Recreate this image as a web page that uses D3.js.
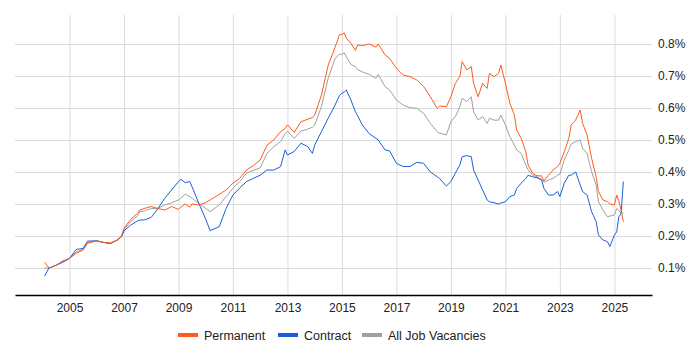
<!DOCTYPE html>
<html>
<head>
<meta charset="utf-8">
<script src="https://cdn.jsdelivr.net/npm/d3@7"></script>
<style>
	body { margin: 0; background: #fff; }
	svg { font-family: "Liberation Sans", Arial, sans-serif; }
	.grid line { stroke: #dcdcdc; stroke-width: 1; }
	.grid path { display: none; }
	.tick text { fill: #222; }
</style>
</head>
<body>
<svg id="chart" width="700" height="350"></svg>
<script>
'use strict';

// months of each reading (YYYY-MM)
const months = [
	"2004-02","2004-04","2004-07","2004-10","2005-01","2005-04","2005-07","2005-09",
	"2006-01","2006-04","2006-07","2006-10","2006-12","2007-01","2007-04","2007-07",
	"2007-08","2007-10","2008-01","2008-04","2008-07","2008-10","2009-01","2009-02",
	"2009-04","2009-06","2009-07","2009-10","2010-01","2010-03","2010-07","2010-10",
	"2011-01","2011-04","2011-07","2011-10","2012-01","2012-04","2012-07","2012-10",
	"2012-12","2013-01","2013-04","2013-07","2013-10","2013-12","2014-01","2014-04",
	"2014-07","2014-10","2014-12","2015-01","2015-02","2015-03","2015-05","2015-07",
	"2015-08","2015-10","2016-01","2016-04","2016-05","2016-08","2016-10","2017-01",
	"2017-04","2017-07","2017-10","2018-01","2018-04","2018-07","2018-08","2018-11",
	"2019-01","2019-03","2019-05","2019-06","2019-08","2019-10","2019-11","2020-01",
	"2020-03","2020-05","2020-06","2020-08","2020-10","2020-11","2021-01","2021-03",
	"2021-05","2021-06","2021-08","2021-10","2021-11","2022-01","2022-03","2022-05",
	"2022-06","2022-08","2022-10","2022-12","2023-01","2023-03","2023-05","2023-06",
	"2023-08","2023-10","2023-11","2024-01","2024-03","2024-05","2024-06","2024-08",
	"2024-10","2024-11","2025-01","2025-02","2025-03","2025-04","2025-05"
];

// share of vacancies, in percent
const permanent = [
	.118,.100,.108,.122,.130,.146,.156,.177,
	.185,.180,.178,.187,.200,.224,.252,.271,
	.281,.286,.292,.286,.281,.292,.283,.290,
	.300,.290,.300,.297,.304,.3125,.330,.344,
	.365,.380,.406,.420,.4375,.484,.500,.526,
	.536,.547,.524,.557,.565,.570,.578,.640,
	.734,.790,.830,.830,.835,.818,.802,.780,
	.797,.795,.800,.790,.800,.766,.755,.724,
	.703,.698,.6875,.667,.635,.599,.606,.604,
	.635,.677,.698,.745,.719,.729,.677,.635,
	.677,.661,.708,.698,.708,.734,.677,.615,
	.578,.531,.505,.464,.422,.396,.388,.388,
	.372,.390,.406,.417,.427,.464,.505,.547,
	.5625,.594,.552,.516,.443,.385,.339,.3125,
	.307,.300,.297,.328,.310,.280,.245
];

const contract = [
	.075,.100,.108,.118,.130,.158,.161,.184,
	.185,.180,.176,.187,.198,.216,.234,.247,
	.250,.250,.258,.286,.318,.344,.370,.377,
	.367,.370,.354,.302,.252,.217,.229,.286,
	.328,.350,.370,.380,.390,.406,.406,.417,
	.469,.453,.464,.490,.479,.458,.484,.526,
	.568,.609,.640,.646,.650,.656,.625,.588,
	.575,.547,.520,.505,.500,.469,.466,.427,
	.417,.417,.430,.427,.400,.385,.380,.356,
	.370,.396,.422,.448,.451,.448,.406,.375,
	.344,.3125,.307,.304,.300,.303,.307,.323,
	.328,.349,.365,.380,.390,.385,.382,.375,
	.349,.328,.328,.339,.323,.365,.390,.390,
	.400,.359,.339,.328,.276,.245,.203,.1875,
	.182,.167,.203,.213,.260,.270,.370
];

const allJobs = [
	.100,.100,.108,.120,.130,.150,.158,.180,
	.185,.180,.177,.187,.199,.220,.245,.263,
	.276,.278,.286,.286,.297,.304,.3125,.318,
	.331,.323,.318,.302,.286,.276,.297,.323,
	.349,.370,.396,.405,.413,.458,.479,.495,
	.520,.528,.505,.528,.534,.540,.547,.604,
	.693,.755,.768,.768,.772,.760,.736,.729,
	.720,.713,.705,.693,.705,.667,.656,.625,
	.609,.601,.599,.583,.552,.526,.521,.516,
	.557,.573,.604,.630,.620,.635,.588,.5625,
	.573,.552,.568,.562,.562,.578,.547,.510,
	.484,.469,.458,.422,.406,.390,.385,.378,
	.368,.375,.380,.390,.393,.4375,.469,.487,
	.495,.500,.474,.458,.401,.359,.307,.281,
	.260,.262,.266,.286,.280,.270,.273
];

const seriesNames = ["Permanent", "Contract", "All Job Vacancies"];
const seriesColors = ["#ff5a1a", "#1a5fd9", "#a0a0a0"];
const yTicks = [0.1, 0.2, 0.3, 0.4, 0.5, 0.6, 0.7, 0.8];
const xTickYears = [2005, 2007, 2009, 2011, 2013, 2015, 2017, 2019, 2021, 2023, 2025];

const parseMonth = d3.timeParse("%Y-%m");
const dates = months.map(parseMonth);

const margin = {left: 15, right: 48, top: 15, bottom: 55};
const width = 700, height = 350;

const svg = d3.select("#chart");

const x = d3.scaleTime()
	.domain([new Date(2003, 0, 1), new Date(2026, 4, 20)])
	.range([margin.left, width - margin.right]);

const y = d3.scaleLinear()
	.domain([0.0156, 0.8906])
	.range([height - margin.bottom, margin.top]);

// gridlines
svg.append("g")
	.attr("class", "grid")
	.attr("transform", "translate(0," + (height - margin.bottom) + ")")
	.call(d3.axisBottom(x)
		.tickValues(xTickYears.map(function(yr){ return new Date(yr, 0, 1); }))
		.tickSize(-(height - margin.bottom - margin.top))
		.tickFormat(""));

svg.append("g")
	.attr("class", "grid")
	.attr("transform", "translate(" + margin.left + ",0)")
	.call(d3.axisLeft(y)
		.tickValues(yTicks)
		.tickSize(-(width - margin.right - margin.left))
		.tickFormat(""));

// lines, all jobs drawn first so it sits underneath
const line = d3.line()
	.x(function(d){ return x(d[0]); })
	.y(function(d){ return y(d[1]); });

const seriesData = [permanent, contract, allJobs];
[2, 1, 0].forEach(function(i){
	svg.append("path")
		.datum(dates.map(function(dt, k){ return [dt, seriesData[i][k]]; }))
		.attr("fill", "none")
		.attr("stroke", seriesColors[i])
		.attr("stroke-width", 1)
		.attr("stroke-linejoin", "round")
		.attr("d", line);
});

// x axis
const xAxis = svg.append("g")
	.attr("transform", "translate(0," + (height - margin.bottom) + ")")
	.call(d3.axisBottom(x)
		.tickValues(xTickYears.map(function(yr){ return new Date(yr, 0, 1); }))
		.tickSize(0)
		.tickPadding(8)
		.tickFormat(d3.timeFormat("%Y")));
xAxis.select(".domain").attr("stroke", "#000").attr("stroke-width", 1.5);
xAxis.selectAll("text").attr("font-size", 12).attr("font-family", "Liberation Sans, Arial, sans-serif");

// y axis labels on the right
const yAxis = svg.append("g")
	.attr("transform", "translate(" + (width - margin.right) + ",0)")
	.call(d3.axisRight(y)
		.tickValues(yTicks)
		.tickSize(0)
		.tickPadding(6)
		.tickFormat(function(d){ return d3.format(".1f")(d) + "%"; }));
yAxis.select(".domain").remove();
yAxis.selectAll("text").attr("font-size", 12).attr("font-family", "Liberation Sans, Arial, sans-serif");

// legend
const legendX = [178, 278, 362];
const legend = svg.append("g");
seriesNames.forEach(function(name, i){
	legend.append("rect")
		.attr("x", legendX[i])
		.attr("y", 333)
		.attr("width", 20)
		.attr("height", 4)
		.attr("fill", seriesColors[i]);
	legend.append("text")
		.attr("x", legendX[i] + 26)
		.attr("y", 339.5)
		.attr("font-size", 12.5)
		.attr("fill", "#222")
		.text(name);
});
</script>
</body>
</html>
